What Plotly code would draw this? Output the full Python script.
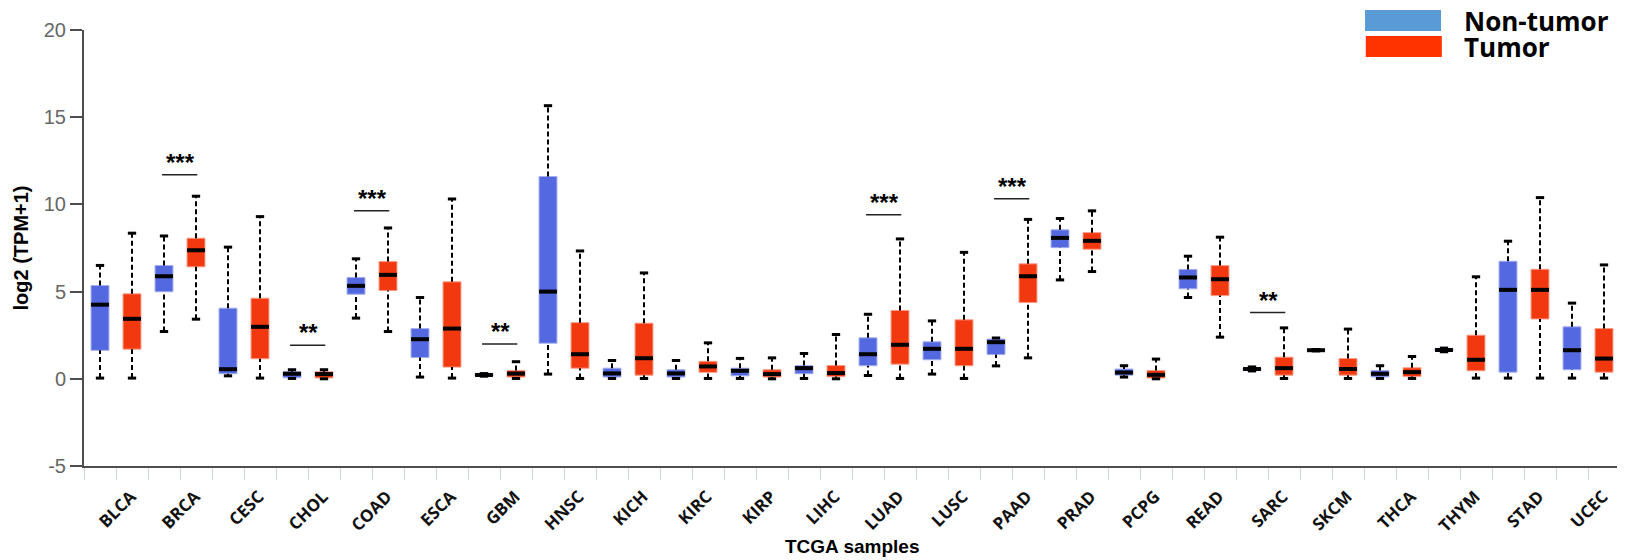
import plotly.graph_objects as go

categories = ["BLCA", "BRCA", "CESC", "CHOL", "COAD", "ESCA", "GBM", "HNSC", "KICH", "KIRC",
              "KIRP", "LIHC", "LUAD", "LUSC", "PAAD", "PRAD", "PCPG", "READ", "SARC", "SKCM",
              "THCA", "THYM", "STAD", "UCEC"]

# Non-tumor (normal) box statistics
normal_min = [0.04, 2.71, 0.17, 0.02, 3.48, 0.10, 0.15, 0.27, 0.02, 0.02, 0.02, 0.02,
              0.19, 0.27, 0.74, 5.67, 0.10, 4.66, 0.45, 1.60, 0.02, 1.55, 0.04, 0.04]
normal_q1 = [1.63, 4.99, 0.29, 0.06, 4.85, 1.22, 0.17, 2.04, 0.10, 0.10, 0.17, 0.29,
             0.75, 1.09, 1.39, 7.52, 0.21, 5.16, 0.50, 1.62, 0.11, 1.58, 0.38, 0.52]
normal_med = [4.25, 5.88, 0.55, 0.29, 5.33, 2.27, 0.22, 5.00, 0.31, 0.31, 0.46, 0.61,
              1.41, 1.72, 2.10, 8.08, 0.36, 5.81, 0.56, 1.64, 0.29, 1.65, 5.10, 1.64]
normal_q3 = [5.35, 6.50, 4.05, 0.40, 5.81, 2.88, 0.27, 11.60, 0.61, 0.52, 0.61, 0.76,
             2.35, 2.12, 2.28, 8.54, 0.56, 6.27, 0.63, 1.66, 0.48, 1.72, 6.74, 2.98]
normal_max = [6.50, 8.19, 7.55, 0.52, 6.88, 4.66, 0.30, 15.66, 1.05, 1.05, 1.17, 1.45,
              3.70, 3.32, 2.34, 9.19, 0.75, 7.03, 0.68, 1.68, 0.75, 1.76, 7.89, 4.34]

# Tumor box statistics
tumor_min = [0.04, 3.42, 0.04, 0.00, 2.71, 0.04, 0.02, 0.02, 0.02, 0.02, 0.00, 0.00,
             0.02, 0.02, 1.20, 6.15, 0.00, 2.39, 0.02, 0.02, 0.02, 0.04, 0.04, 0.04]
tumor_q1 = [1.70, 6.42, 1.15, 0.05, 5.06, 0.67, 0.10, 0.61, 0.21, 0.37, 0.10, 0.13,
            0.84, 0.75, 4.37, 7.43, 0.04, 4.77, 0.21, 0.21, 0.13, 0.46, 3.43, 0.38]
tumor_med = [3.44, 7.37, 2.98, 0.27, 5.96, 2.88, 0.30, 1.41, 1.18, 0.71, 0.27, 0.33,
             1.95, 1.72, 5.88, 7.91, 0.23, 5.71, 0.61, 0.56, 0.38, 1.09, 5.10, 1.16]
tumor_q3 = [4.87, 8.06, 4.62, 0.40, 6.72, 5.56, 0.48, 3.22, 3.19, 1.00, 0.52, 0.76,
            3.92, 3.38, 6.59, 8.38, 0.48, 6.49, 1.24, 1.16, 0.63, 2.50, 6.28, 2.88]
tumor_max = [8.35, 10.47, 9.30, 0.52, 8.65, 10.31, 0.98, 7.33, 6.07, 2.06, 1.20, 2.54,
             8.02, 7.25, 9.14, 9.63, 1.13, 8.12, 2.92, 2.85, 1.28, 5.85, 10.39, 6.53]

# Significance marks
sig_categories = ["BRCA", "CHOL", "COAD", "GBM", "LUAD", "PAAD", "SARC"]
sig_labels = ["***", "**", "***", "**", "***", "***", "**"]
sig_line_y = [11.7, 1.92, 9.63, 2.0, 9.4, 10.33, 3.8]

y_ticks = [-5, 0, 5, 10, 15, 20]

# ---------------------------------------------------------------------------
OFFSET = 0.25
BOX_W = 0.28
CAP_HALF = 0.065
MED_HALF = BOX_W / 2
PAGE_PAD = 8  # default body margin of the html page

groups = [
    dict(name="Non-tumor", off=-OFFSET, fill="#5468E0", edge="#A5AFF0",
         mn=normal_min, q1=normal_q1, md=normal_med, q3=normal_q3, mx=normal_max),
    dict(name="Tumor", off=OFFSET, fill="#F2380E", edge="#F89A85",
         mn=tumor_min, q1=tumor_q1, md=tumor_med, q3=tumor_q3, mx=tumor_max),
]

fig = go.Figure()
idx = list(range(len(categories)))

for g in groups:
    xs = [i + g["off"] for i in idx]
    wx, wy = [], []
    cx, cy = [], []
    mx_, my_ = [], []
    for x, a, b, c, d, e in zip(xs, g["mn"], g["q1"], g["md"], g["q3"], g["mx"]):
        wx += [x, x, None, x, x, None]
        wy += [d, e, None, a, b, None]
        cx += [x - CAP_HALF, x + CAP_HALF, None, x - CAP_HALF, x + CAP_HALF, None]
        cy += [e, e, None, a, a, None]
        mx_ += [x - MED_HALF, x + MED_HALF, None]
        my_ += [c, c, None]
    fig.add_trace(go.Scatter(x=wx, y=wy, mode="lines", showlegend=False, hoverinfo="skip",
                             line=dict(color="#000000", width=2, dash="5px,3px")))
    fig.add_trace(go.Scatter(x=cx, y=cy, mode="lines", showlegend=False, hoverinfo="skip",
                             line=dict(color="#000000", width=3)))
    fig.add_trace(go.Box(x=xs, q1=g["q1"], median=g["md"], q3=g["q3"],
                         lowerfence=g["q1"], upperfence=g["q3"],
                         width=BOX_W, fillcolor=g["fill"], name=g["name"],
                         line=dict(color=g["edge"], width=1), whiskerwidth=0,
                         showlegend=False, hoverinfo="skip", boxpoints=False))
    fig.add_trace(go.Scatter(x=mx_, y=my_, mode="lines", showlegend=False, hoverinfo="skip",
                             line=dict(color="#000000", width=4)))

# significance brackets
for cat, lab, yl in zip(sig_categories, sig_labels, sig_line_y):
    i = categories.index(cat)
    fig.add_shape(type="line", xref="x", yref="y", x0=i - 0.28, x1=i + 0.27, y0=yl, y1=yl,
                  line=dict(color="#222222", width=1.5))
    fig.add_annotation(x=i, y=yl, xref="x", yref="y", text=lab, showarrow=False,
                       yanchor="bottom", yshift=-3,
                       font=dict(family="Liberation Sans", size=24, color="#000000",
                                 weight="bold"))

# legend (drawn manually like the reference)
fig.add_shape(type="rect", xref="paper", yref="paper", x0=0.834, x1=0.8835, y0=0.9977, y1=1.046,
              fillcolor="#5B9BD5", line=dict(width=0))
fig.add_shape(type="rect", xref="paper", yref="paper", x0=0.8345, x1=0.884, y0=0.938, y1=0.986,
              fillcolor="#FF3300", line=dict(width=0))
fig.add_annotation(xref="paper", yref="paper", x=0.897, y=1.0206, text="Non-tumor",
                   showarrow=False, xanchor="left", yanchor="middle",
                   font=dict(family="Open Sans", size=26, color="#000000", weight="bold"))
fig.add_annotation(xref="paper", yref="paper", x=0.897, y=0.961, text="Tumor",
                   showarrow=False, xanchor="left", yanchor="middle",
                   font=dict(family="Open Sans", size=26, color="#000000", weight="bold"))

# x-axis title
fig.add_annotation(xref="paper", yref="paper", x=0.5, y=-0.1835, text="TCGA samples",
                   showarrow=False, xanchor="center", yanchor="middle",
                   font=dict(family="Liberation Sans", size=19, color="#000000", weight="bold"))

fig.update_layout(
    width=1625 - PAGE_PAD, height=560 - PAGE_PAD, autosize=False,
    margin=dict(l=84 - PAGE_PAD, r=5, t=30 - PAGE_PAD, b=94, autoexpand=False),
    paper_bgcolor="white", plot_bgcolor="white",
    showlegend=False,
    font=dict(family="Liberation Sans"),
)
fig.update_xaxes(
    range=[-0.5, len(categories) - 0.5],
    tickmode="array", tickvals=idx, ticktext=categories, tickangle=-45,
    tickfont=dict(family="Open Sans", size=17, color="#111111", weight="bold"),
    ticklabelshift=15,
    ticks="outside", ticklen=12, tickcolor="#ccd6eb", tickwidth=1,
    minor=dict(tickmode="array", tickvals=[i - 0.5 for i in idx] + [len(categories) - 0.5],
               ticks="outside", ticklen=12, tickcolor="#ccd6eb", tickwidth=1, showgrid=False),
    showline=True, linecolor="#4d4d4d", linewidth=2,
    showgrid=False, zeroline=False, automargin=False,
)
fig.update_yaxes(
    range=[-5, 20], tickmode="array", tickvals=y_ticks, ticktext=[str(v) for v in y_ticks],
    ticks="outside", ticklen=12, tickcolor="#4d4d4d", tickwidth=2,
    tickfont=dict(family="Liberation Sans", size=20, color="#666666"),
    showline=True, linecolor="#4d4d4d", linewidth=2,
    showgrid=False, zeroline=False, automargin=False,
    title=dict(text="log2 (TPM+1)", standoff=10,
               font=dict(family="Liberation Sans", size=20, color="#000000", weight="bold")),
)

fig.write_html("out.html")
